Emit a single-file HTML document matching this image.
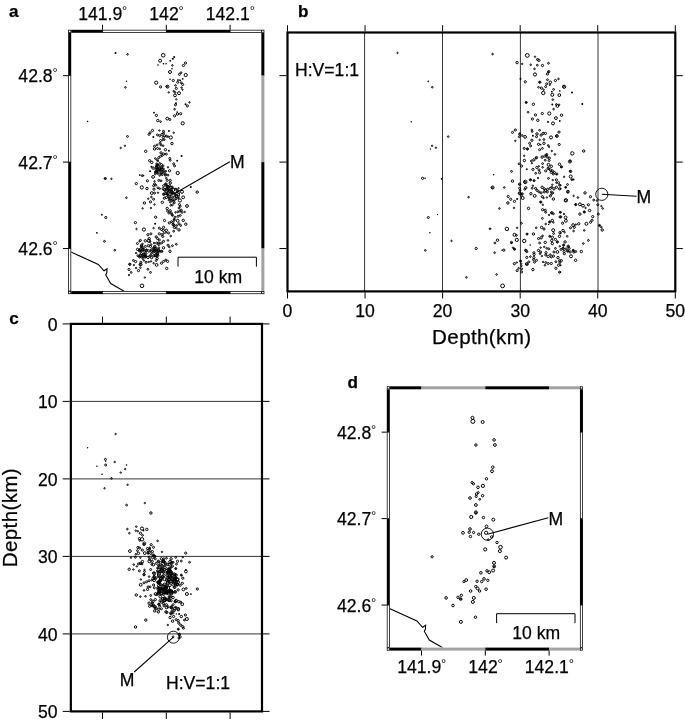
<!DOCTYPE html>
<html lang="en"><head><meta charset="utf-8"><title>Figure</title>
<style>html,body{margin:0;padding:0;background:#fff}svg{display:block}text{font-family:"Liberation Sans",Arial,Helvetica,sans-serif;fill:#000;stroke:#000;stroke-width:0.25px}</style>
</head><body>
<svg width="685" height="722" viewBox="0 0 685 722">
<rect width="685" height="722" fill="#fff"/>
<!-- panel a -->
<text x="9.0" y="16.7" font-size="17.1" font-weight="bold">a</text>
<clipPath id="clipA"><rect x="71.2" y="32.8" width="190.15000000000003" height="258.3"/></clipPath><path d="M70.9 251.9 L76.4 254.4 L98.3 264.5 L104.0 270.8 L107.0 268.9 L106.8 272.8 L105.7 274.8 L110.7 283.5 L124.1 291.2" fill="none" stroke="#000" stroke-width="1.1" stroke-linejoin="miter" clip-path="url(#clipA)"/><g clip-path="url(#clipA)"><g fill="none" stroke="#000" stroke-width="1.0"><circle cx="115.5" cy="53.0" r="1.00" fill="#000" stroke="none"/><circle cx="127.5" cy="54.3" r="0.8"/><circle cx="126.6" cy="81.2" r="0.70" fill="#000" stroke="none"/><circle cx="125.4" cy="87.4" r="0.8"/><circle cx="163.2" cy="55.3" r="1.8"/><circle cx="160.1" cy="60.7" r="1.5"/><circle cx="158.0" cy="65.0" r="0.80" fill="#000" stroke="none"/><circle cx="163.5" cy="63.7" r="0.80" fill="#000" stroke="none"/><circle cx="166.1" cy="63.7" r="0.80" fill="#000" stroke="none"/><circle cx="170.2" cy="60.8" r="0.90" fill="#000" stroke="none"/><circle cx="172.8" cy="58.8" r="1.00" fill="#000" stroke="none"/><circle cx="174.2" cy="56.9" r="1.00" fill="#000" stroke="none"/><circle cx="172.4" cy="65.4" r="0.8"/><circle cx="172.0" cy="68.7" r="0.80" fill="#000" stroke="none"/><circle cx="170.0" cy="72.0" r="1.5"/><circle cx="185.5" cy="63.0" r="1.1"/><circle cx="183.4" cy="65.5" r="1.1"/><circle cx="181.0" cy="72.7" r="0.9"/><circle cx="179.4" cy="74.4" r="1.0"/><circle cx="185.7" cy="75.0" r="1.6"/><circle cx="170.0" cy="79.2" r="0.80" fill="#000" stroke="none"/><circle cx="173.3" cy="80.5" r="1.1"/><circle cx="177.7" cy="80.1" r="0.80" fill="#000" stroke="none"/><circle cx="179.0" cy="80.1" r="0.80" fill="#000" stroke="none"/><circle cx="180.3" cy="80.4" r="0.80" fill="#000" stroke="none"/><circle cx="182.7" cy="78.8" r="0.90" fill="#000" stroke="none"/><circle cx="177.7" cy="82.3" r="1.0"/><circle cx="181.2" cy="82.7" r="0.9"/><circle cx="182.7" cy="84.5" r="1.0"/><circle cx="156.2" cy="82.7" r="1.6"/><circle cx="160.6" cy="86.9" r="1.1"/><circle cx="167.6" cy="86.7" r="1.4"/><circle cx="166.7" cy="86.5" r="0.9"/><circle cx="175.5" cy="85.4" r="0.8"/><circle cx="176.3" cy="88.4" r="1.1"/><circle cx="181.6" cy="87.6" r="0.7"/><circle cx="182.5" cy="89.7" r="0.7"/><circle cx="168.7" cy="92.4" r="0.7"/><circle cx="173.7" cy="91.1" r="0.7"/><circle cx="175.0" cy="92.4" r="0.9"/><circle cx="179.0" cy="93.2" r="1.5"/><circle cx="87.6" cy="121.5" r="0.80" fill="#000" stroke="none"/><circle cx="127.5" cy="136.4" r="0.9"/><circle cx="124.9" cy="145.8" r="0.7"/><circle cx="120.7" cy="147.9" r="0.7"/><circle cx="175.0" cy="95.4" r="1.4"/><circle cx="176.3" cy="99.4" r="0.7"/><circle cx="175.9" cy="103.3" r="1.00" fill="#000" stroke="none"/><circle cx="175.5" cy="104.8" r="1.0"/><circle cx="189.5" cy="102.4" r="0.7"/><circle cx="185.5" cy="104.2" r="1.00" fill="#000" stroke="none"/><circle cx="187.3" cy="105.9" r="1.1"/><circle cx="174.6" cy="109.2" r="0.8"/><circle cx="154.0" cy="112.7" r="0.90" fill="#000" stroke="none"/><circle cx="156.4" cy="115.4" r="1.1"/><circle cx="177.2" cy="112.1" r="0.80" fill="#000" stroke="none"/><circle cx="177.5" cy="114.0" r="1.2"/><circle cx="180.7" cy="113.7" r="1.1"/><circle cx="174.6" cy="115.8" r="1.1"/><circle cx="167.2" cy="118.6" r="1.4"/><circle cx="169.8" cy="119.5" r="1.0"/><circle cx="157.8" cy="120.6" r="1.2"/><circle cx="160.6" cy="121.7" r="0.8"/><circle cx="182.7" cy="123.3" r="1.6"/><circle cx="152.5" cy="130.5" r="1.1"/><circle cx="150.1" cy="132.7" r="1.0"/><circle cx="149.0" cy="134.4" r="1.0"/><circle cx="159.4" cy="130.5" r="0.7"/><circle cx="163.5" cy="131.3" r="1.0"/><circle cx="168.9" cy="130.9" r="1.00" fill="#000" stroke="none"/><circle cx="173.7" cy="132.7" r="0.7"/><circle cx="153.3" cy="137.0" r="1.00" fill="#000" stroke="none"/><circle cx="157.5" cy="134.9" r="1.0"/><circle cx="159.7" cy="135.7" r="1.0"/><circle cx="161.9" cy="134.4" r="1.1"/><circle cx="163.6" cy="133.1" r="0.9"/><circle cx="164.5" cy="135.7" r="1.0"/><circle cx="163.2" cy="137.5" r="1.1"/><circle cx="166.3" cy="136.2" r="1.0"/><circle cx="168.0" cy="136.6" r="0.8"/><circle cx="170.8" cy="137.5" r="1.6"/><circle cx="160.6" cy="140.5" r="1.0"/><circle cx="162.8" cy="140.1" r="0.7"/><circle cx="164.5" cy="139.7" r="0.7"/><circle cx="172.0" cy="143.6" r="1.2"/><circle cx="160.1" cy="143.2" r="1.0"/><circle cx="161.0" cy="144.9" r="1.0"/><circle cx="157.1" cy="144.9" r="0.9"/><circle cx="154.5" cy="146.2" r="1.0"/><circle cx="163.2" cy="145.8" r="0.8"/><circle cx="154.5" cy="148.9" r="1.2"/><circle cx="157.5" cy="148.4" r="1.0"/><circle cx="159.7" cy="148.9" r="0.8"/><circle cx="165.4" cy="149.7" r="1.2"/><circle cx="168.9" cy="150.8" r="1.00" fill="#000" stroke="none"/><circle cx="145.7" cy="151.3" r="1.2"/><circle cx="161.0" cy="152.8" r="1.1"/><circle cx="163.6" cy="154.1" r="1.1"/><circle cx="166.3" cy="154.1" r="1.0"/><circle cx="181.6" cy="155.9" r="1.00" fill="#000" stroke="none"/><circle cx="169.8" cy="158.5" r="1.0"/><circle cx="170.2" cy="160.3" r="0.9"/><circle cx="177.2" cy="160.7" r="1.00" fill="#000" stroke="none"/><circle cx="173.7" cy="163.8" r="1.0"/><circle cx="174.6" cy="165.9" r="1.0"/><circle cx="168.0" cy="167.3" r="0.7"/><circle cx="169.5" cy="170.8" r="1.1"/><circle cx="177.7" cy="173.0" r="1.6"/><circle cx="149.6" cy="160.7" r="1.1"/><circle cx="151.8" cy="162.4" r="1.2"/><circle cx="155.3" cy="158.5" r="0.8"/><circle cx="157.1" cy="159.8" r="1.0"/><circle cx="158.8" cy="157.6" r="1.0"/><circle cx="160.6" cy="156.3" r="1.0"/><circle cx="162.3" cy="155.4" r="0.9"/><circle cx="158.0" cy="161.1" r="0.7"/><circle cx="142.2" cy="175.6" r="0.9"/><circle cx="143.5" cy="175.6" r="0.90" fill="#000" stroke="none"/><circle cx="150.1" cy="171.2" r="1.00" fill="#000" stroke="none"/><circle cx="153.1" cy="168.1" r="1.2"/><circle cx="151.4" cy="166.8" r="1.00" fill="#000" stroke="none"/><circle cx="158.0" cy="165.9" r="1.4"/><circle cx="161.5" cy="164.6" r="1.0"/><circle cx="163.2" cy="165.9" r="0.9"/><circle cx="157.5" cy="169.0" r="1.0"/><circle cx="159.7" cy="168.1" r="1.0"/><circle cx="158.8" cy="171.2" r="1.0"/><circle cx="161.0" cy="172.5" r="1.0"/><circle cx="163.2" cy="170.8" r="1.0"/><circle cx="164.5" cy="172.1" r="0.8"/><circle cx="165.8" cy="171.2" r="0.8"/><circle cx="155.3" cy="173.8" r="1.0"/><circle cx="153.1" cy="176.9" r="1.4"/><circle cx="157.1" cy="172.1" r="0.9"/><circle cx="159.7" cy="175.6" r="0.7"/><circle cx="162.3" cy="174.7" r="0.9"/><circle cx="165.4" cy="175.1" r="1.0"/><circle cx="168.0" cy="175.1" r="0.9"/><circle cx="147.4" cy="180.8" r="1.1"/><circle cx="154.5" cy="181.3" r="0.7"/><circle cx="158.8" cy="180.4" r="1.0"/><circle cx="161.0" cy="180.8" r="0.9"/><circle cx="166.3" cy="178.2" r="0.8"/><circle cx="167.2" cy="180.4" r="1.0"/><circle cx="170.2" cy="180.4" r="1.1"/><circle cx="170.2" cy="183.0" r="1.2"/><circle cx="154.5" cy="183.9" r="1.0"/><circle cx="153.6" cy="185.7" r="1.0"/><circle cx="155.8" cy="185.2" r="0.9"/><circle cx="141.8" cy="187.4" r="1.6"/><circle cx="147.0" cy="188.5" r="1.2"/><circle cx="154.0" cy="189.2" r="1.1"/><circle cx="158.0" cy="187.8" r="0.9"/><circle cx="159.7" cy="188.7" r="0.8"/><circle cx="163.6" cy="185.7" r="1.0"/><circle cx="165.4" cy="184.3" r="0.9"/><circle cx="163.2" cy="188.7" r="1.2"/><circle cx="169.8" cy="185.7" r="1.0"/><circle cx="166.3" cy="189.2" r="1.0"/><circle cx="168.0" cy="190.5" r="1.0"/><circle cx="170.7" cy="189.6" r="1.0"/><circle cx="173.3" cy="190.0" r="1.4"/><circle cx="175.9" cy="189.2" r="1.0"/><circle cx="178.5" cy="188.3" r="0.7"/><circle cx="177.7" cy="190.9" r="1.0"/><circle cx="182.0" cy="191.8" r="1.5"/><circle cx="190.8" cy="187.0" r="1.00" fill="#000" stroke="none"/><circle cx="197.2" cy="192.1" r="1.2"/><circle cx="151.8" cy="193.1" r="1.4"/><circle cx="154.5" cy="193.1" r="1.0"/><circle cx="158.0" cy="192.7" r="0.7"/><circle cx="163.6" cy="194.4" r="1.1"/><circle cx="165.8" cy="193.5" r="1.0"/><circle cx="168.0" cy="194.9" r="1.0"/><circle cx="169.8" cy="196.2" r="1.0"/><circle cx="166.3" cy="197.5" r="1.1"/><circle cx="168.9" cy="197.9" r="1.0"/><circle cx="171.1" cy="198.4" r="1.0"/><circle cx="172.8" cy="199.7" r="1.0"/><circle cx="171.5" cy="200.5" r="0.9"/><circle cx="173.7" cy="201.4" r="0.9"/><circle cx="176.3" cy="196.2" r="1.4"/><circle cx="178.5" cy="194.4" r="1.0"/><circle cx="183.2" cy="197.3" r="1.4"/><circle cx="179.9" cy="200.5" r="1.6"/><circle cx="151.4" cy="197.0" r="0.8"/><circle cx="153.6" cy="199.2" r="1.0"/><circle cx="148.3" cy="198.8" r="0.7"/><circle cx="150.5" cy="201.9" r="1.1"/><circle cx="144.4" cy="203.0" r="1.2"/><circle cx="162.3" cy="202.3" r="1.2"/><circle cx="154.5" cy="204.5" r="0.7"/><circle cx="142.6" cy="208.4" r="0.7"/><circle cx="150.9" cy="208.0" r="0.7"/><circle cx="174.2" cy="202.7" r="1.0"/><circle cx="172.4" cy="204.9" r="0.9"/><circle cx="170.7" cy="205.4" r="0.8"/><circle cx="179.4" cy="204.5" r="1.0"/><circle cx="180.3" cy="206.2" r="0.9"/><circle cx="179.0" cy="208.0" r="0.9"/><circle cx="187.0" cy="206.0" r="1.4"/><circle cx="167.2" cy="208.4" r="1.2"/><circle cx="167.6" cy="211.1" r="1.0"/><circle cx="170.2" cy="210.6" r="1.0"/><circle cx="171.1" cy="212.8" r="1.0"/><circle cx="168.9" cy="213.2" r="0.9"/><circle cx="175.5" cy="212.4" r="0.7"/><circle cx="177.7" cy="211.9" r="0.9"/><circle cx="179.9" cy="211.1" r="1.0"/><circle cx="181.2" cy="210.2" r="1.0"/><circle cx="182.0" cy="212.4" r="0.9"/><circle cx="184.7" cy="211.9" r="0.7"/><circle cx="172.0" cy="214.6" r="1.0"/><circle cx="156.6" cy="163.8" r="0.8"/><circle cx="159.7" cy="163.3" r="0.8"/><circle cx="161.9" cy="168.1" r="0.8"/><circle cx="163.6" cy="169.0" r="0.8"/><circle cx="156.2" cy="166.8" r="0.8"/><circle cx="160.6" cy="169.9" r="0.8"/><circle cx="162.8" cy="173.0" r="0.7"/><circle cx="158.0" cy="173.8" r="0.7"/><circle cx="167.2" cy="185.7" r="0.9"/><circle cx="168.5" cy="187.8" r="0.9"/><circle cx="165.4" cy="190.9" r="0.9"/><circle cx="167.2" cy="192.7" r="0.9"/><circle cx="170.2" cy="192.7" r="0.9"/><circle cx="172.4" cy="193.5" r="0.9"/><circle cx="174.6" cy="193.5" r="0.9"/><circle cx="171.1" cy="195.3" r="0.8"/><circle cx="173.3" cy="197.0" r="0.8"/><circle cx="175.5" cy="198.8" r="0.8"/><circle cx="168.9" cy="200.1" r="0.8"/><circle cx="170.2" cy="202.3" r="0.8"/><circle cx="176.8" cy="192.2" r="0.8"/><circle cx="178.5" cy="197.9" r="0.8"/><circle cx="155.6" cy="217.2" r="1.1"/><circle cx="164.5" cy="220.5" r="1.1"/><circle cx="172.4" cy="215.4" r="0.9"/><circle cx="175.0" cy="217.2" r="1.0"/><circle cx="178.1" cy="216.3" r="1.0"/><circle cx="180.3" cy="215.4" r="0.9"/><circle cx="169.3" cy="222.9" r="1.1"/><circle cx="171.5" cy="221.6" r="0.9"/><circle cx="174.2" cy="220.3" r="0.9"/><circle cx="177.7" cy="220.7" r="1.4"/><circle cx="179.0" cy="223.8" r="1.0"/><circle cx="180.7" cy="225.5" r="0.9"/><circle cx="183.2" cy="220.4" r="1.2"/><circle cx="185.8" cy="224.2" r="1.2"/><circle cx="173.7" cy="224.6" r="0.8"/><circle cx="174.2" cy="227.3" r="1.1"/><circle cx="176.3" cy="228.1" r="0.9"/><circle cx="179.0" cy="229.9" r="1.2"/><circle cx="173.7" cy="231.2" r="0.9"/><circle cx="176.8" cy="225.5" r="0.8"/><circle cx="155.1" cy="223.8" r="1.00" fill="#000" stroke="none"/><circle cx="153.6" cy="228.1" r="0.7"/><circle cx="143.9" cy="229.5" r="1.6"/><circle cx="159.3" cy="228.1" r="1.0"/><circle cx="161.5" cy="229.5" r="1.0"/><circle cx="163.6" cy="227.3" r="1.1"/><circle cx="163.2" cy="230.3" r="1.2"/><circle cx="166.3" cy="230.3" r="1.2"/><circle cx="168.5" cy="233.0" r="1.0"/><circle cx="165.8" cy="232.5" r="0.8"/><circle cx="170.7" cy="236.0" r="0.8"/><circle cx="159.3" cy="233.8" r="1.1"/><circle cx="161.9" cy="234.7" r="1.0"/><circle cx="163.6" cy="233.4" r="0.7"/><circle cx="162.8" cy="236.5" r="1.0"/><circle cx="147.9" cy="234.7" r="1.1"/><circle cx="150.9" cy="233.8" r="1.0"/><circle cx="156.2" cy="236.9" r="1.1"/><circle cx="157.5" cy="238.6" r="1.0"/><circle cx="159.3" cy="240.0" r="1.0"/><circle cx="168.0" cy="240.4" r="0.8"/><circle cx="148.8" cy="240.8" r="1.6"/><circle cx="145.3" cy="240.8" r="1.2"/><circle cx="140.4" cy="240.4" r="1.0"/><circle cx="154.0" cy="243.0" r="0.7"/><circle cx="156.6" cy="243.0" r="1.0"/><circle cx="158.8" cy="244.3" r="1.2"/><circle cx="161.5" cy="243.0" r="1.0"/><circle cx="163.6" cy="241.3" r="1.0"/><circle cx="142.6" cy="243.9" r="0.7"/><circle cx="168.0" cy="245.2" r="1.0"/><circle cx="169.3" cy="247.0" r="0.8"/><circle cx="172.4" cy="245.7" r="0.9"/><circle cx="176.3" cy="244.3" r="0.9"/><circle cx="163.5" cy="247.8" r="1.2"/><circle cx="170.0" cy="251.3" r="1.2"/><circle cx="145.3" cy="246.5" r="1.0"/><circle cx="150.5" cy="246.5" r="1.0"/><circle cx="155.8" cy="248.3" r="1.2"/><circle cx="158.8" cy="247.8" r="0.9"/><circle cx="142.2" cy="250.0" r="1.2"/><circle cx="144.8" cy="251.3" r="1.0"/><circle cx="148.8" cy="250.9" r="1.2"/><circle cx="151.4" cy="249.6" r="0.9"/><circle cx="153.1" cy="252.2" r="1.0"/><circle cx="155.8" cy="252.2" r="1.2"/><circle cx="158.4" cy="250.0" r="1.2"/><circle cx="160.1" cy="251.3" r="0.9"/><circle cx="162.3" cy="251.3" r="0.7"/><circle cx="141.3" cy="253.5" r="1.0"/><circle cx="143.9" cy="254.4" r="1.0"/><circle cx="146.1" cy="253.5" r="0.9"/><circle cx="140.4" cy="256.2" r="1.2"/><circle cx="147.9" cy="257.5" r="1.2"/><circle cx="149.6" cy="256.2" r="0.9"/><circle cx="154.9" cy="255.7" r="1.1"/><circle cx="158.0" cy="255.3" r="0.9"/><circle cx="157.1" cy="258.4" r="1.2"/><circle cx="142.6" cy="257.0" r="0.9"/><circle cx="156.2" cy="260.5" r="0.9"/><circle cx="140.9" cy="262.3" r="1.0"/><circle cx="143.9" cy="260.5" r="0.7"/><circle cx="146.1" cy="262.3" r="1.0"/><circle cx="148.8" cy="261.9" r="0.7"/><circle cx="150.9" cy="261.4" r="0.7"/><circle cx="153.6" cy="263.2" r="0.7"/><circle cx="156.6" cy="264.9" r="1.4"/><circle cx="161.5" cy="263.2" r="1.1"/><circle cx="163.6" cy="261.4" r="1.0"/><circle cx="165.8" cy="260.1" r="1.0"/><circle cx="167.6" cy="261.4" r="1.1"/><circle cx="140.9" cy="264.5" r="1.2"/><circle cx="140.4" cy="267.6" r="0.8"/><circle cx="166.7" cy="268.4" r="1.2"/><circle cx="147.9" cy="269.3" r="0.9"/><circle cx="150.5" cy="272.4" r="0.9"/><circle cx="143.5" cy="248.7" r="0.8"/><circle cx="140.9" cy="251.3" r="0.9"/><circle cx="146.6" cy="249.6" r="0.8"/><circle cx="157.1" cy="253.5" r="0.8"/><circle cx="154.0" cy="250.0" r="0.8"/><circle cx="151.4" cy="253.5" r="0.8"/><circle cx="145.3" cy="256.2" r="0.8"/><circle cx="105.4" cy="178.5" r="1.0"/><circle cx="104.9" cy="178.5" r="0.7"/><circle cx="111.4" cy="178.8" r="0.7"/><circle cx="136.3" cy="183.6" r="1.1"/><circle cx="126.4" cy="197.7" r="0.8"/><circle cx="101.9" cy="214.7" r="0.90" fill="#000" stroke="none"/><circle cx="139.8" cy="175.1" r="0.90" fill="#000" stroke="none"/><circle cx="105.8" cy="217.5" r="1.1"/><circle cx="135.4" cy="222.6" r="1.1"/><circle cx="136.5" cy="229.0" r="0.7"/><circle cx="96.9" cy="232.8" r="0.90" fill="#000" stroke="none"/><circle cx="104.5" cy="241.3" r="0.9"/><circle cx="114.8" cy="250.2" r="0.8"/><circle cx="137.4" cy="243.5" r="1.0"/><circle cx="139.6" cy="241.3" r="0.7"/><circle cx="137.5" cy="249.4" r="1.1"/><circle cx="139.6" cy="250.9" r="1.0"/><circle cx="136.1" cy="253.1" r="0.7"/><circle cx="137.8" cy="255.7" r="0.9"/><circle cx="139.6" cy="257.0" r="1.0"/><circle cx="133.4" cy="260.4" r="0.9"/><circle cx="135.6" cy="261.6" r="1.1"/><circle cx="129.9" cy="264.3" r="1.1"/><circle cx="129.5" cy="264.3" r="0.8"/><circle cx="133.9" cy="265.1" r="0.7"/><circle cx="140.0" cy="264.5" r="1.0"/><circle cx="129.0" cy="269.5" r="1.1"/><circle cx="131.2" cy="272.4" r="0.9"/><circle cx="136.1" cy="268.0" r="0.7"/><circle cx="138.5" cy="270.6" r="1.1"/><circle cx="129.0" cy="275.0" r="0.7"/><circle cx="144.9" cy="277.5" r="0.7"/><circle cx="142.0" cy="285.8" r="1.8"/><circle cx="156.5" cy="167.7" r="1.3"/><circle cx="156.1" cy="169.6" r="1.1"/><circle cx="157.8" cy="169.6" r="1.2"/><circle cx="165.4" cy="174.2" r="1.0"/><circle cx="161.3" cy="167.4" r="1.2"/><circle cx="161.9" cy="169.7" r="1.3"/><circle cx="156.6" cy="165.2" r="0.9"/><circle cx="159.8" cy="169.7" r="0.9"/><circle cx="160.7" cy="173.7" r="0.9"/><circle cx="156.4" cy="172.1" r="1.2"/><circle cx="157.6" cy="165.0" r="1.1"/><circle cx="155.4" cy="171.8" r="1.0"/><circle cx="167.0" cy="186.6" r="1.2"/><circle cx="172.6" cy="192.9" r="1.0"/><circle cx="171.2" cy="187.6" r="1.2"/><circle cx="164.4" cy="189.7" r="1.2"/><circle cx="167.1" cy="194.1" r="0.9"/><circle cx="176.4" cy="196.3" r="1.2"/><circle cx="169.0" cy="190.0" r="1.0"/><circle cx="172.4" cy="187.1" r="0.9"/><circle cx="171.4" cy="191.3" r="1.1"/><circle cx="172.0" cy="192.4" r="1.3"/><circle cx="167.6" cy="194.3" r="0.9"/><circle cx="166.8" cy="188.6" r="0.9"/><circle cx="175.7" cy="195.4" r="1.0"/><circle cx="164.3" cy="198.2" r="1.1"/><circle cx="164.1" cy="193.8" r="1.0"/><circle cx="169.6" cy="190.8" r="1.3"/><circle cx="166.0" cy="183.8" r="1.0"/><circle cx="168.1" cy="186.8" r="1.2"/><circle cx="143.0" cy="249.6" r="1.2"/><circle cx="142.9" cy="258.5" r="1.0"/><circle cx="141.3" cy="246.7" r="1.0"/><circle cx="140.3" cy="255.3" r="1.2"/><circle cx="143.8" cy="254.2" r="1.3"/><circle cx="143.3" cy="256.0" r="1.2"/><circle cx="145.8" cy="256.3" r="1.1"/><circle cx="161.4" cy="251.3" r="1.1"/><circle cx="158.5" cy="250.7" r="0.9"/><circle cx="154.8" cy="246.4" r="1.2"/><circle cx="157.0" cy="256.2" r="1.0"/><circle cx="172.8" cy="222.5" r="1.0"/><circle cx="173.0" cy="224.5" r="1.1"/><circle cx="174.1" cy="219.3" r="0.9"/><circle cx="174.4" cy="225.3" r="0.9"/><circle cx="148.3" cy="245.7" r="1.1"/><circle cx="151.6" cy="257.7" r="1.1"/><circle cx="140.2" cy="249.2" r="1.0"/><circle cx="155.3" cy="250.1" r="1.0"/><circle cx="157.6" cy="253.7" r="1.1"/><circle cx="150.6" cy="255.5" r="0.8"/><circle cx="149.2" cy="238.7" r="1.2"/><circle cx="158.4" cy="251.9" r="0.9"/><circle cx="155.8" cy="255.4" r="1.2"/><circle cx="153.7" cy="255.7" r="1.1"/><circle cx="153.5" cy="248.3" r="1.0"/><circle cx="145.5" cy="257.1" r="1.0"/><circle cx="154.6" cy="251.2" r="1.2"/><circle cx="151.0" cy="244.6" r="0.9"/><circle cx="158.5" cy="243.1" r="1.1"/><circle cx="141.6" cy="245.2" r="1.1"/><circle cx="146.2" cy="250.6" r="1.2"/><circle cx="154.3" cy="247.7" r="1.2"/><circle cx="145.3" cy="255.5" r="1.0"/><circle cx="156.8" cy="249.8" r="1.0"/><circle cx="151.5" cy="251.1" r="1.1"/><circle cx="139.1" cy="250.3" r="1.0"/><circle cx="149.9" cy="241.6" r="0.9"/><circle cx="142.0" cy="246.9" r="1.1"/></g></g><rect x="71.20" y="29.80" width="31.30" height="3.00" fill="#000"/><rect x="102.50" y="30.17" width="63.80" height="2.25" fill="#fff" stroke="#000" stroke-width="0.75"/><rect x="166.30" y="29.80" width="63.80" height="3.00" fill="#000"/><rect x="230.10" y="30.17" width="31.25" height="2.25" fill="#fff" stroke="#000" stroke-width="0.75"/><rect x="71.20" y="291.10" width="31.30" height="3.00" fill="#000"/><rect x="102.50" y="291.48" width="63.80" height="2.25" fill="#fff" stroke="#000" stroke-width="0.75"/><rect x="166.30" y="291.10" width="63.80" height="3.00" fill="#000"/><rect x="230.10" y="291.48" width="31.25" height="2.25" fill="#fff" stroke="#000" stroke-width="0.75"/><rect x="68.20" y="32.80" width="3.00" height="42.85" fill="#000"/><rect x="68.58" y="75.65" width="2.25" height="86.45" fill="#fff" stroke="#000" stroke-width="0.75"/><rect x="68.20" y="162.10" width="3.00" height="86.45" fill="#000"/><rect x="68.58" y="248.55" width="2.25" height="42.55" fill="#fff" stroke="#000" stroke-width="0.75"/><rect x="261.35" y="32.80" width="3.00" height="42.85" fill="#000"/><rect x="261.35" y="75.65" width="3.00" height="86.45" fill="#a2a2a2"/><rect x="261.35" y="162.10" width="3.00" height="86.45" fill="#000"/><rect x="261.35" y="248.55" width="3.00" height="42.55" fill="#a2a2a2"/><rect x="68.58" y="30.17" width="2.25" height="2.25" fill="#fff" stroke="#000" stroke-width="0.75"/><rect x="68.58" y="291.48" width="2.25" height="2.25" fill="#fff" stroke="#000" stroke-width="0.75"/><rect x="261.73" y="30.17" width="2.25" height="2.25" fill="#fff" stroke="#000" stroke-width="0.75"/><rect x="261.73" y="291.48" width="2.25" height="2.25" fill="#fff" stroke="#000" stroke-width="0.75"/><line x1="102.5" y1="29.799999999999997" x2="102.5" y2="24.799999999999997" stroke="#000" stroke-width="1"/><text x="100.20" y="19.80" font-size="17.6" text-anchor="middle">141.9</text><text x="122.12" y="14.80" font-size="13" style="stroke-width:0">°</text><line x1="166.3" y1="29.799999999999997" x2="166.3" y2="24.799999999999997" stroke="#000" stroke-width="1"/><text x="164.00" y="19.80" font-size="17.6" text-anchor="middle">142</text><text x="178.58" y="14.80" font-size="13" style="stroke-width:0">°</text><line x1="230.1" y1="29.799999999999997" x2="230.1" y2="24.799999999999997" stroke="#000" stroke-width="1"/><text x="227.80" y="19.80" font-size="17.6" text-anchor="middle">142.1</text><text x="249.72" y="14.80" font-size="13" style="stroke-width:0">°</text><line x1="68.2" y1="75.65" x2="63.0" y2="75.65" stroke="#000" stroke-width="1"/><text x="52.60" y="82.10" font-size="17.6" text-anchor="end">42.8</text><text x="52.50" y="77.10" font-size="13" style="stroke-width:0">°</text><line x1="68.2" y1="162.1" x2="63.0" y2="162.1" stroke="#000" stroke-width="1"/><text x="52.60" y="168.55" font-size="17.6" text-anchor="end">42.7</text><text x="52.50" y="163.55" font-size="13" style="stroke-width:0">°</text><line x1="68.2" y1="248.55" x2="63.0" y2="248.55" stroke="#000" stroke-width="1"/><text x="52.60" y="255.00" font-size="17.6" text-anchor="end">42.6</text><text x="52.50" y="250.00" font-size="13" style="stroke-width:0">°</text><path d="M178 266.6 L178 257.2 L256.4 257.2 L256.4 266.6" fill="none" stroke="#000" stroke-width="1"/><text x="218.2" y="283.2" font-size="17.6" text-anchor="middle">10 km</text><circle cx="173.4" cy="194.3" r="6.1" fill="none" stroke="#000" stroke-width="0.9"/><line x1="173.4" y1="194.3" x2="229.8" y2="161.7" stroke="#000" stroke-width="1.05"/><text x="230.0" y="168.3" font-size="17.6">M</text>
<!-- panel b -->
<text x="297.9" y="16.5" font-size="17.1" font-weight="bold">b</text>
<line x1="364.60" y1="32.5" x2="364.60" y2="291.4" stroke="#000" stroke-width="0.8"/><line x1="442.50" y1="32.5" x2="442.50" y2="291.4" stroke="#000" stroke-width="0.8"/><line x1="520.40" y1="32.5" x2="520.40" y2="291.4" stroke="#000" stroke-width="0.8"/><line x1="598.00" y1="32.5" x2="598.00" y2="291.4" stroke="#000" stroke-width="0.8"/>
<clipPath id="clipB"><rect x="287.5" y="32.5" width="387.79999999999995" height="258.9"/></clipPath>
<g clip-path="url(#clipB)"><g fill="none" stroke="#000" stroke-width="1.0"><circle cx="397.5" cy="52.9" r="0.7"/><circle cx="428.2" cy="81.4" r="0.80" fill="#000" stroke="none"/><circle cx="432.3" cy="87.2" r="0.8"/><circle cx="411.2" cy="121.7" r="0.70" fill="#000" stroke="none"/><circle cx="448.2" cy="136.6" r="0.8"/><circle cx="432.1" cy="145.8" r="0.7"/><circle cx="435.9" cy="147.7" r="0.7"/><circle cx="430.4" cy="149.0" r="0.70" fill="#000" stroke="none"/><circle cx="422.6" cy="178.3" r="1.1"/><circle cx="425.1" cy="178.3" r="0.80" fill="#000" stroke="none"/><circle cx="441.6" cy="178.8" r="0.90" fill="#000" stroke="none"/><circle cx="468.6" cy="197.2" r="0.8"/><circle cx="437.5" cy="214.6" r="0.70" fill="#000" stroke="none"/><circle cx="428.3" cy="217.5" r="1.0"/><circle cx="429.9" cy="232.8" r="0.80" fill="#000" stroke="none"/><circle cx="489.8" cy="228.8" r="0.7"/><circle cx="451.5" cy="240.9" r="0.7"/><circle cx="476.2" cy="248.5" r="1.1"/><circle cx="425.3" cy="250.4" r="0.8"/><circle cx="466.4" cy="277.4" r="0.8"/><circle cx="492.6" cy="54.1" r="0.8"/><circle cx="517.1" cy="62.6" r="1.2"/><circle cx="522.2" cy="63.9" r="0.7"/><circle cx="527.3" cy="55.4" r="1.9"/><circle cx="535.0" cy="56.7" r="0.7"/><circle cx="537.5" cy="59.5" r="1.0"/><circle cx="538.8" cy="60.3" r="1.2"/><circle cx="530.7" cy="64.8" r="0.8"/><circle cx="537.3" cy="65.2" r="0.9"/><circle cx="542.5" cy="65.5" r="1.1"/><circle cx="548.5" cy="63.3" r="0.9"/><circle cx="534.5" cy="68.9" r="0.8"/><circle cx="535.0" cy="74.5" r="1.6"/><circle cx="548.8" cy="71.6" r="1.1"/><circle cx="548.2" cy="72.0" r="0.7"/><circle cx="547.4" cy="74.0" r="1.1"/><circle cx="520.5" cy="78.9" r="0.7"/><circle cx="525.3" cy="81.8" r="1.1"/><circle cx="539.9" cy="82.2" r="1.1"/><circle cx="539.5" cy="82.2" r="0.7"/><circle cx="547.5" cy="79.7" r="0.9"/><circle cx="550.3" cy="82.3" r="1.3"/><circle cx="549.8" cy="84.9" r="0.7"/><circle cx="555.4" cy="80.5" r="1.1"/><circle cx="558.5" cy="78.9" r="0.8"/><circle cx="546.7" cy="83.8" r="1.0"/><circle cx="545.7" cy="86.6" r="1.0"/><circle cx="538.5" cy="87.3" r="0.8"/><circle cx="541.4" cy="88.1" r="1.1"/><circle cx="543.6" cy="89.7" r="0.7"/><circle cx="543.3" cy="93.0" r="1.7"/><circle cx="553.6" cy="89.4" r="0.9"/><circle cx="551.8" cy="91.7" r="0.90" fill="#000" stroke="none"/><circle cx="552.3" cy="94.8" r="1.5"/><circle cx="559.3" cy="95.1" r="1.4"/><circle cx="559.8" cy="90.9" r="0.80" fill="#000" stroke="none"/><circle cx="552.8" cy="99.6" r="0.8"/><circle cx="526.3" cy="102.4" r="1.0"/><circle cx="526.0" cy="102.4" r="1.00" fill="#000" stroke="none"/><circle cx="533.4" cy="104.3" r="1.2"/><circle cx="552.3" cy="104.5" r="1.00" fill="#000" stroke="none"/><circle cx="556.4" cy="104.5" r="0.9"/><circle cx="559.0" cy="104.8" r="0.8"/><circle cx="564.1" cy="86.8" r="1.6"/><circle cx="563.7" cy="86.4" r="0.9"/><circle cx="572.0" cy="92.4" r="1.00" fill="#000" stroke="none"/><circle cx="582.3" cy="104.0" r="1.00" fill="#000" stroke="none"/><circle cx="557.4" cy="106.0" r="1.4"/><circle cx="553.6" cy="109.1" r="0.8"/><circle cx="528.1" cy="112.2" r="0.8"/><circle cx="535.5" cy="114.9" r="1.1"/><circle cx="542.3" cy="113.5" r="1.1"/><circle cx="549.3" cy="113.5" r="1.6"/><circle cx="555.9" cy="118.1" r="1.4"/><circle cx="559.8" cy="121.0" r="0.90" fill="#000" stroke="none"/><circle cx="532.4" cy="119.0" r="1.1"/><circle cx="537.8" cy="120.3" r="1.2"/><circle cx="548.0" cy="121.9" r="0.7"/><circle cx="553.0" cy="123.4" r="1.5"/><circle cx="515.3" cy="130.0" r="1.1"/><circle cx="512.5" cy="132.4" r="1.0"/><circle cx="531.9" cy="130.0" r="0.8"/><circle cx="532.2" cy="131.6" r="0.8"/><circle cx="539.6" cy="130.3" r="0.9"/><circle cx="519.6" cy="134.1" r="1.0"/><circle cx="520.0" cy="133.6" r="1.00" fill="#000" stroke="none"/><circle cx="522.2" cy="135.5" r="0.9"/><circle cx="525.1" cy="136.9" r="1.4"/><circle cx="519.3" cy="136.7" r="0.9"/><circle cx="537.0" cy="133.9" r="1.2"/><circle cx="536.5" cy="136.7" r="1.0"/><circle cx="532.9" cy="135.7" r="1.00" fill="#000" stroke="none"/><circle cx="541.1" cy="135.1" r="1.1"/><circle cx="543.1" cy="133.4" r="1.1"/><circle cx="545.4" cy="133.4" r="1.1"/><circle cx="551.0" cy="137.4" r="1.5"/><circle cx="556.9" cy="136.0" r="1.4"/><circle cx="556.5" cy="136.0" r="0.8"/><circle cx="559.0" cy="132.1" r="1.1"/><circle cx="515.3" cy="140.8" r="0.7"/><circle cx="531.9" cy="140.3" r="1.1"/><circle cx="539.6" cy="139.9" r="0.7"/><circle cx="543.9" cy="139.5" r="0.9"/><circle cx="529.6" cy="143.3" r="1.0"/><circle cx="530.7" cy="145.9" r="1.0"/><circle cx="538.5" cy="144.3" r="1.1"/><circle cx="540.6" cy="144.6" r="0.90" fill="#000" stroke="none"/><circle cx="543.9" cy="143.3" r="1.2"/><circle cx="548.2" cy="145.4" r="0.8"/><circle cx="549.1" cy="146.9" r="0.7"/><circle cx="559.2" cy="144.5" r="1.1"/><circle cx="524.2" cy="148.4" r="1.0"/><circle cx="527.3" cy="148.9" r="1.1"/><circle cx="527.6" cy="149.1" r="0.7"/><circle cx="539.6" cy="149.7" r="1.0"/><circle cx="542.4" cy="148.4" r="0.9"/><circle cx="551.8" cy="151.0" r="0.7"/><circle cx="554.9" cy="154.4" r="0.8"/><circle cx="524.2" cy="155.8" r="0.7"/><circle cx="524.4" cy="160.5" r="1.2"/><circle cx="536.5" cy="157.6" r="1.2"/><circle cx="536.2" cy="157.9" r="0.7"/><circle cx="533.9" cy="159.9" r="1.2"/><circle cx="531.4" cy="161.0" r="0.9"/><circle cx="531.9" cy="163.2" r="0.7"/><circle cx="542.1" cy="157.1" r="1.2"/><circle cx="544.7" cy="156.1" r="1.0"/><circle cx="546.7" cy="154.6" r="1.1"/><circle cx="546.4" cy="154.9" r="1.00" fill="#000" stroke="none"/><circle cx="547.2" cy="157.1" r="1.0"/><circle cx="549.3" cy="158.1" r="1.1"/><circle cx="549.1" cy="160.5" r="1.0"/><circle cx="545.2" cy="160.2" r="0.9"/><circle cx="542.6" cy="163.6" r="0.9"/><circle cx="519.1" cy="163.8" r="0.9"/><circle cx="521.5" cy="166.0" r="1.1"/><circle cx="548.5" cy="164.8" r="1.4"/><circle cx="551.3" cy="166.3" r="1.2"/><circle cx="559.5" cy="164.3" r="1.2"/><circle cx="526.8" cy="169.2" r="0.90" fill="#000" stroke="none"/><circle cx="532.9" cy="169.4" r="1.1"/><circle cx="536.8" cy="167.5" r="1.1"/><circle cx="538.8" cy="166.3" r="0.7"/><circle cx="539.0" cy="169.9" r="1.0"/><circle cx="542.6" cy="167.3" r="0.8"/><circle cx="511.5" cy="171.4" r="0.9"/><circle cx="539.6" cy="172.7" r="1.1"/><circle cx="535.7" cy="173.3" r="0.9"/><circle cx="545.7" cy="170.9" r="1.1"/><circle cx="548.2" cy="168.4" r="1.2"/><circle cx="548.7" cy="168.6" r="0.7"/><circle cx="550.3" cy="169.9" r="1.1"/><circle cx="552.3" cy="170.9" r="1.1"/><circle cx="551.3" cy="172.4" r="1.1"/><circle cx="554.4" cy="172.4" r="1.0"/><circle cx="556.9" cy="174.0" r="1.0"/><circle cx="556.4" cy="174.3" r="1.00" fill="#000" stroke="none"/><circle cx="553.4" cy="174.0" r="1.0"/><circle cx="493.6" cy="174.8" r="0.80" fill="#000" stroke="none"/><circle cx="561.5" cy="115.2" r="1.2"/><circle cx="583.7" cy="151.0" r="1.2"/><circle cx="572.3" cy="153.4" r="1.7"/><circle cx="569.9" cy="161.5" r="1.5"/><circle cx="570.2" cy="161.0" r="0.9"/><circle cx="561.5" cy="166.8" r="1.1"/><circle cx="561.2" cy="167.1" r="1.00" fill="#000" stroke="none"/><circle cx="570.7" cy="171.4" r="1.1"/><circle cx="570.0" cy="171.2" r="0.8"/><circle cx="512.5" cy="181.1" r="1.2"/><circle cx="492.6" cy="187.5" r="1.5"/><circle cx="492.2" cy="187.8" r="0.9"/><circle cx="504.3" cy="187.5" r="0.8"/><circle cx="548.5" cy="178.4" r="0.9"/><circle cx="538.0" cy="178.1" r="0.7"/><circle cx="530.4" cy="179.8" r="1.1"/><circle cx="530.7" cy="179.8" r="1.00" fill="#000" stroke="none"/><circle cx="534.1" cy="180.6" r="1.0"/><circle cx="533.9" cy="180.6" r="0.90" fill="#000" stroke="none"/><circle cx="525.3" cy="181.9" r="1.7"/><circle cx="524.9" cy="182.4" r="1.0"/><circle cx="519.6" cy="184.2" r="1.2"/><circle cx="519.9" cy="184.5" r="0.7"/><circle cx="552.8" cy="180.1" r="0.7"/><circle cx="556.4" cy="179.9" r="1.1"/><circle cx="558.5" cy="182.7" r="1.1"/><circle cx="556.4" cy="182.7" r="0.7"/><circle cx="552.3" cy="184.7" r="0.7"/><circle cx="559.5" cy="185.2" r="0.9"/><circle cx="532.9" cy="185.7" r="0.7"/><circle cx="525.8" cy="187.8" r="1.2"/><circle cx="524.7" cy="189.3" r="0.9"/><circle cx="519.6" cy="188.3" r="1.0"/><circle cx="520.1" cy="190.3" r="0.8"/><circle cx="532.2" cy="188.3" r="0.9"/><circle cx="535.5" cy="188.3" r="1.0"/><circle cx="537.0" cy="190.3" r="1.1"/><circle cx="539.0" cy="191.9" r="1.0"/><circle cx="541.1" cy="192.9" r="1.0"/><circle cx="542.1" cy="187.3" r="1.2"/><circle cx="544.2" cy="188.8" r="1.1"/><circle cx="545.7" cy="190.3" r="1.2"/><circle cx="547.7" cy="189.3" r="1.1"/><circle cx="550.3" cy="188.3" r="1.1"/><circle cx="551.8" cy="187.3" r="0.9"/><circle cx="553.9" cy="188.8" r="1.2"/><circle cx="556.4" cy="187.3" r="1.1"/><circle cx="559.5" cy="188.8" r="1.1"/><circle cx="544.2" cy="191.9" r="1.1"/><circle cx="547.2" cy="191.9" r="1.1"/><circle cx="551.3" cy="191.9" r="0.9"/><circle cx="552.8" cy="192.9" r="1.0"/><circle cx="519.6" cy="193.2" r="1.4"/><circle cx="519.9" cy="193.4" r="0.8"/><circle cx="522.2" cy="193.9" r="1.1"/><circle cx="521.9" cy="193.9" r="1.00" fill="#000" stroke="none"/><circle cx="521.2" cy="195.4" r="0.9"/><circle cx="530.9" cy="193.7" r="1.2"/><circle cx="534.7" cy="195.9" r="1.4"/><circle cx="522.7" cy="198.0" r="1.5"/><circle cx="508.2" cy="196.5" r="1.1"/><circle cx="510.7" cy="199.3" r="1.1"/><circle cx="514.5" cy="201.4" r="1.1"/><circle cx="517.1" cy="199.0" r="1.00" fill="#000" stroke="none"/><circle cx="507.9" cy="202.9" r="1.2"/><circle cx="542.3" cy="196.7" r="1.1"/><circle cx="543.6" cy="198.0" r="0.7"/><circle cx="546.9" cy="197.5" r="0.7"/><circle cx="550.3" cy="195.9" r="1.1"/><circle cx="553.4" cy="199.0" r="1.2"/><circle cx="551.3" cy="194.4" r="0.8"/><circle cx="540.8" cy="202.1" r="1.1"/><circle cx="540.5" cy="202.1" r="1.00" fill="#000" stroke="none"/><circle cx="542.9" cy="204.8" r="0.7"/><circle cx="499.4" cy="208.5" r="0.8"/><circle cx="514.0" cy="207.9" r="0.7"/><circle cx="528.5" cy="208.4" r="1.2"/><circle cx="542.6" cy="209.7" r="1.1"/><circle cx="545.2" cy="210.3" r="1.1"/><circle cx="545.7" cy="212.3" r="0.9"/><circle cx="551.8" cy="212.8" r="1.2"/><circle cx="551.5" cy="212.8" r="0.7"/><circle cx="553.4" cy="213.8" r="0.9"/><circle cx="549.0" cy="214.9" r="0.7"/><circle cx="560.0" cy="212.3" r="0.7"/><circle cx="560.0" cy="216.9" r="1.0"/><circle cx="542.4" cy="218.4" r="0.9"/><circle cx="552.3" cy="220.5" r="1.2"/><circle cx="549.8" cy="222.0" r="1.1"/><circle cx="549.5" cy="222.0" r="1.00" fill="#000" stroke="none"/><circle cx="553.4" cy="222.5" r="0.7"/><circle cx="545.7" cy="224.0" r="0.8"/><circle cx="548.6" cy="224.4" r="0.70" fill="#000" stroke="none"/><circle cx="521.4" cy="223.3" r="0.9"/><circle cx="490.5" cy="228.6" r="0.90" fill="#000" stroke="none"/><circle cx="506.9" cy="228.9" r="1.7"/><circle cx="517.1" cy="227.8" r="0.7"/><circle cx="536.2" cy="227.8" r="0.8"/><circle cx="541.6" cy="227.4" r="1.2"/><circle cx="544.0" cy="229.0" r="1.1"/><circle cx="553.2" cy="230.2" r="1.5"/><circle cx="553.6" cy="233.5" r="0.9"/><circle cx="514.5" cy="234.8" r="1.5"/><circle cx="516.4" cy="235.3" r="0.9"/><circle cx="527.0" cy="234.1" r="1.0"/><circle cx="527.3" cy="234.1" r="0.90" fill="#000" stroke="none"/><circle cx="533.4" cy="234.0" r="1.2"/><circle cx="560.0" cy="232.7" r="1.2"/><circle cx="559.5" cy="236.3" r="1.2"/><circle cx="542.6" cy="235.8" r="0.8"/><circle cx="541.1" cy="237.8" r="1.2"/><circle cx="538.5" cy="238.6" r="1.0"/><circle cx="549.8" cy="236.3" r="1.0"/><circle cx="550.1" cy="236.3" r="0.90" fill="#000" stroke="none"/><circle cx="552.3" cy="237.3" r="1.2"/><circle cx="497.5" cy="240.2" r="1.2"/><circle cx="516.8" cy="239.9" r="1.6"/><circle cx="524.2" cy="240.9" r="1.7"/><circle cx="511.5" cy="242.4" r="1.1"/><circle cx="511.5" cy="242.9" r="1.00" fill="#000" stroke="none"/><circle cx="494.9" cy="243.0" r="0.9"/><circle cx="539.6" cy="243.0" r="0.9"/><circle cx="545.2" cy="242.4" r="1.2"/><circle cx="551.8" cy="240.4" r="1.2"/><circle cx="555.4" cy="239.4" r="1.1"/><circle cx="557.4" cy="241.9" r="1.1"/><circle cx="557.1" cy="241.9" r="1.00" fill="#000" stroke="none"/><circle cx="552.3" cy="243.5" r="1.2"/><circle cx="564.1" cy="176.8" r="0.7"/><circle cx="570.7" cy="176.5" r="1.5"/><circle cx="571.8" cy="179.6" r="0.9"/><circle cx="572.1" cy="179.6" r="0.90" fill="#000" stroke="none"/><circle cx="573.6" cy="179.6" r="1.00" fill="#000" stroke="none"/><circle cx="567.5" cy="184.5" r="0.9"/><circle cx="565.6" cy="187.3" r="0.9"/><circle cx="565.9" cy="187.5" r="0.90" fill="#000" stroke="none"/><circle cx="560.5" cy="185.2" r="0.7"/><circle cx="560.5" cy="188.8" r="0.7"/><circle cx="567.9" cy="191.7" r="1.4"/><circle cx="567.7" cy="191.9" r="0.8"/><circle cx="585.0" cy="192.9" r="1.2"/><circle cx="573.6" cy="195.9" r="0.7"/><circle cx="577.9" cy="197.5" r="0.8"/><circle cx="590.5" cy="196.7" r="1.1"/><circle cx="593.7" cy="200.0" r="0.9"/><circle cx="597.0" cy="200.5" r="0.8"/><circle cx="565.9" cy="200.3" r="1.7"/><circle cx="565.6" cy="200.5" r="1.0"/><circle cx="575.8" cy="204.6" r="1.1"/><circle cx="575.5" cy="204.6" r="1.00" fill="#000" stroke="none"/><circle cx="579.9" cy="204.3" r="1.4"/><circle cx="583.0" cy="205.7" r="1.4"/><circle cx="585.5" cy="207.9" r="0.7"/><circle cx="588.4" cy="204.8" r="1.1"/><circle cx="597.8" cy="204.8" r="1.0"/><circle cx="601.4" cy="206.2" r="0.7"/><circle cx="602.7" cy="208.5" r="0.8"/><circle cx="589.6" cy="210.5" r="1.2"/><circle cx="584.3" cy="212.0" r="1.1"/><circle cx="584.1" cy="212.0" r="1.00" fill="#000" stroke="none"/><circle cx="579.9" cy="214.1" r="1.2"/><circle cx="598.3" cy="214.1" r="1.0"/><circle cx="560.5" cy="212.3" r="0.9"/><circle cx="563.9" cy="214.0" r="0.7"/><circle cx="560.8" cy="216.9" r="1.0"/><circle cx="565.6" cy="217.4" r="1.4"/><circle cx="565.9" cy="220.8" r="1.4"/><circle cx="562.6" cy="223.2" r="1.1"/><circle cx="592.7" cy="216.6" r="1.1"/><circle cx="592.0" cy="220.3" r="1.1"/><circle cx="590.5" cy="222.3" r="1.0"/><circle cx="586.4" cy="223.8" r="1.5"/><circle cx="578.7" cy="223.8" r="1.2"/><circle cx="575.8" cy="224.6" r="0.7"/><circle cx="573.1" cy="225.1" r="1.4"/><circle cx="574.3" cy="227.3" r="1.1"/><circle cx="570.5" cy="227.8" r="1.0"/><circle cx="599.5" cy="225.4" r="1.0"/><circle cx="599.3" cy="225.4" r="0.90" fill="#000" stroke="none"/><circle cx="601.4" cy="227.1" r="0.8"/><circle cx="602.2" cy="230.0" r="1.2"/><circle cx="563.1" cy="230.5" r="1.2"/><circle cx="564.6" cy="232.2" r="0.7"/><circle cx="573.6" cy="231.0" r="0.8"/><circle cx="584.2" cy="230.4" r="0.8"/><circle cx="567.2" cy="236.3" r="0.8"/><circle cx="588.4" cy="240.4" r="0.9"/><circle cx="565.1" cy="241.9" r="1.2"/><circle cx="563.6" cy="244.8" r="0.7"/><circle cx="583.3" cy="243.5" r="0.8"/><circle cx="560.5" cy="233.2" r="0.90" fill="#000" stroke="none"/><circle cx="530.2" cy="245.0" r="0.80" fill="#000" stroke="none"/><circle cx="494.6" cy="252.7" r="0.8"/><circle cx="503.8" cy="250.2" r="1.1"/><circle cx="502.1" cy="250.2" r="0.80" fill="#000" stroke="none"/><circle cx="513.0" cy="247.7" r="0.7"/><circle cx="514.5" cy="249.2" r="1.1"/><circle cx="514.2" cy="249.0" r="1.00" fill="#000" stroke="none"/><circle cx="525.8" cy="250.4" r="1.2"/><circle cx="525.5" cy="250.4" r="0.7"/><circle cx="526.8" cy="251.7" r="1.0"/><circle cx="540.6" cy="247.6" r="0.7"/><circle cx="544.2" cy="246.9" r="0.7"/><circle cx="546.7" cy="248.2" r="0.8"/><circle cx="548.8" cy="248.9" r="1.0"/><circle cx="538.5" cy="250.4" r="1.1"/><circle cx="540.6" cy="252.0" r="1.0"/><circle cx="540.1" cy="253.7" r="0.8"/><circle cx="541.9" cy="256.1" r="0.7"/><circle cx="555.4" cy="248.4" r="0.9"/><circle cx="557.4" cy="252.0" r="1.4"/><circle cx="553.9" cy="252.0" r="1.0"/><circle cx="559.8" cy="246.3" r="0.7"/><circle cx="533.9" cy="252.7" r="1.0"/><circle cx="534.1" cy="254.5" r="1.1"/><circle cx="546.0" cy="252.7" r="1.1"/><circle cx="545.7" cy="255.0" r="1.0"/><circle cx="548.2" cy="256.4" r="1.2"/><circle cx="551.3" cy="256.8" r="1.1"/><circle cx="553.4" cy="256.1" r="1.1"/><circle cx="550.3" cy="254.5" r="0.7"/><circle cx="558.0" cy="257.6" r="1.2"/><circle cx="559.5" cy="260.7" r="1.0"/><circle cx="526.8" cy="257.4" r="1.1"/><circle cx="530.4" cy="256.6" r="0.8"/><circle cx="533.9" cy="257.6" r="1.1"/><circle cx="533.4" cy="259.6" r="0.9"/><circle cx="536.5" cy="260.3" r="1.0"/><circle cx="534.5" cy="262.2" r="1.0"/><circle cx="520.5" cy="261.0" r="1.0"/><circle cx="520.7" cy="261.2" r="0.90" fill="#000" stroke="none"/><circle cx="514.3" cy="263.7" r="1.1"/><circle cx="516.8" cy="262.5" r="0.7"/><circle cx="521.2" cy="263.7" r="0.7"/><circle cx="521.5" cy="265.8" r="0.7"/><circle cx="528.8" cy="261.9" r="1.0"/><circle cx="526.8" cy="264.0" r="1.4"/><circle cx="527.2" cy="264.3" r="0.8"/><circle cx="543.1" cy="262.0" r="0.7"/><circle cx="545.7" cy="262.5" r="0.9"/><circle cx="548.2" cy="263.5" r="1.0"/><circle cx="551.3" cy="263.5" r="1.1"/><circle cx="544.9" cy="265.3" r="0.8"/><circle cx="555.9" cy="261.7" r="0.9"/><circle cx="558.5" cy="265.3" r="1.1"/><circle cx="555.9" cy="268.3" r="1.1"/><circle cx="559.5" cy="272.2" r="1.0"/><circle cx="559.8" cy="262.7" r="0.9"/><circle cx="518.6" cy="268.3" r="0.8"/><circle cx="517.1" cy="270.6" r="1.1"/><circle cx="521.7" cy="268.8" r="0.9"/><circle cx="521.7" cy="271.9" r="1.0"/><circle cx="532.9" cy="269.6" r="1.2"/><circle cx="496.6" cy="274.5" r="0.8"/><circle cx="502.6" cy="285.9" r="1.9"/><circle cx="563.6" cy="245.3" r="1.0"/><circle cx="568.2" cy="246.3" r="1.2"/><circle cx="568.5" cy="246.6" r="0.7"/><circle cx="563.1" cy="248.4" r="1.2"/><circle cx="563.4" cy="248.6" r="0.7"/><circle cx="561.0" cy="249.4" r="1.0"/><circle cx="566.1" cy="248.9" r="1.0"/><circle cx="569.2" cy="248.4" r="1.0"/><circle cx="567.7" cy="250.9" r="1.2"/><circle cx="567.9" cy="251.2" r="0.7"/><circle cx="570.2" cy="252.0" r="1.1"/><circle cx="564.1" cy="251.5" r="1.1"/><circle cx="573.3" cy="250.4" r="1.0"/><circle cx="573.1" cy="250.2" r="0.90" fill="#000" stroke="none"/><circle cx="573.8" cy="252.0" r="1.1"/><circle cx="575.8" cy="251.5" r="0.9"/><circle cx="581.3" cy="251.5" r="1.2"/><circle cx="564.3" cy="253.7" r="1.1"/><circle cx="571.0" cy="256.3" r="1.5"/><circle cx="575.6" cy="260.3" r="1.2"/><circle cx="561.2" cy="260.7" r="1.2"/><circle cx="560.5" cy="265.3" r="1.00" fill="#000" stroke="none"/><circle cx="560.3" cy="272.2" r="0.90" fill="#000" stroke="none"/></g></g>
<rect x="287.5" y="32.5" width="387.80" height="258.90" fill="none" stroke="#000" stroke-width="2.2"/>
<line x1="287.50" y1="31.5" x2="287.50" y2="25.2" stroke="#000" stroke-width="1"/><line x1="287.50" y1="292.4" x2="287.50" y2="298.5" stroke="#000" stroke-width="1"/><text x="287.50" y="316.5" font-size="17.6" text-anchor="middle">0</text><line x1="365.06" y1="31.5" x2="365.06" y2="25.2" stroke="#000" stroke-width="1"/><line x1="365.06" y1="292.4" x2="365.06" y2="298.5" stroke="#000" stroke-width="1"/><text x="365.06" y="316.5" font-size="17.6" text-anchor="middle">10</text><line x1="442.62" y1="31.5" x2="442.62" y2="25.2" stroke="#000" stroke-width="1"/><line x1="442.62" y1="292.4" x2="442.62" y2="298.5" stroke="#000" stroke-width="1"/><text x="442.62" y="316.5" font-size="17.6" text-anchor="middle">20</text><line x1="520.18" y1="31.5" x2="520.18" y2="25.2" stroke="#000" stroke-width="1"/><line x1="520.18" y1="292.4" x2="520.18" y2="298.5" stroke="#000" stroke-width="1"/><text x="520.18" y="316.5" font-size="17.6" text-anchor="middle">30</text><line x1="597.74" y1="31.5" x2="597.74" y2="25.2" stroke="#000" stroke-width="1"/><line x1="597.74" y1="292.4" x2="597.74" y2="298.5" stroke="#000" stroke-width="1"/><text x="597.74" y="316.5" font-size="17.6" text-anchor="middle">40</text><line x1="675.30" y1="31.5" x2="675.30" y2="25.2" stroke="#000" stroke-width="1"/><line x1="675.30" y1="292.4" x2="675.30" y2="298.5" stroke="#000" stroke-width="1"/><text x="675.30" y="316.5" font-size="17.6" text-anchor="middle">50</text><line x1="286.5" y1="75.65" x2="279.4" y2="75.65" stroke="#000" stroke-width="1"/><line x1="676.3" y1="75.65" x2="682.8" y2="75.65" stroke="#000" stroke-width="1"/><line x1="286.5" y1="162.1" x2="279.4" y2="162.1" stroke="#000" stroke-width="1"/><line x1="676.3" y1="162.1" x2="682.8" y2="162.1" stroke="#000" stroke-width="1"/><line x1="286.5" y1="248.55" x2="279.4" y2="248.55" stroke="#000" stroke-width="1"/><line x1="676.3" y1="248.55" x2="682.8" y2="248.55" stroke="#000" stroke-width="1"/>
<text x="481.8" y="344.3" font-size="20.6" letter-spacing="0.36" text-anchor="middle">Depth(km)</text>
<text x="295" y="75.6" font-size="17.6">H:V=1:1</text>
<circle cx="601.8" cy="194.3" r="6.1" fill="none" stroke="#000" stroke-width="0.9"/>
<line x1="601.8" y1="194.3" x2="636.6" y2="196.2" stroke="#000" stroke-width="1.05"/>
<text x="636.4" y="202.7" font-size="17.6">M</text>
<!-- panel c -->
<text x="9.3" y="323.8" font-size="17.1" font-weight="bold">c</text>
<line x1="70.85" y1="401.40" x2="262.0" y2="401.40" stroke="#000" stroke-width="0.8"/><line x1="70.85" y1="478.90" x2="262.0" y2="478.90" stroke="#000" stroke-width="0.8"/><line x1="70.85" y1="556.40" x2="262.0" y2="556.40" stroke="#000" stroke-width="0.8"/><line x1="70.85" y1="633.90" x2="262.0" y2="633.90" stroke="#000" stroke-width="0.8"/>
<clipPath id="clipC"><rect x="70.85" y="323.9" width="191.15" height="387.5"/></clipPath>
<g clip-path="url(#clipC)"><g fill="none" stroke="#000" stroke-width="1.0"><circle cx="115.6" cy="434.0" r="0.7"/><circle cx="87.6" cy="447.7" r="0.70" fill="#000" stroke="none"/><circle cx="105.4" cy="459.4" r="1.0"/><circle cx="105.7" cy="461.3" r="0.70" fill="#000" stroke="none"/><circle cx="114.7" cy="462.0" r="0.7"/><circle cx="105.7" cy="465.0" r="1.0"/><circle cx="96.9" cy="466.3" r="0.80" fill="#000" stroke="none"/><circle cx="126.5" cy="465.0" r="0.80" fill="#000" stroke="none"/><circle cx="125.2" cy="469.1" r="0.7"/><circle cx="120.7" cy="472.6" r="0.7"/><circle cx="102.0" cy="474.2" r="0.80" fill="#000" stroke="none"/><circle cx="111.5" cy="478.4" r="0.8"/><circle cx="127.6" cy="484.8" r="0.7"/><circle cx="104.5" cy="488.3" r="0.7"/><circle cx="126.6" cy="505.1" r="0.9"/><circle cx="144.8" cy="503.1" r="0.7"/><circle cx="150.9" cy="513.0" r="1.2"/><circle cx="136.3" cy="526.6" r="0.8"/><circle cx="127.4" cy="529.1" r="0.8"/><circle cx="129.4" cy="533.2" r="0.8"/><circle cx="142.0" cy="528.6" r="1.6"/><circle cx="146.8" cy="529.4" r="1.2"/><circle cx="143.5" cy="530.5" r="0.90" fill="#000" stroke="none"/><circle cx="135.8" cy="530.7" r="0.7"/><circle cx="137.9" cy="531.2" r="0.7"/><circle cx="140.4" cy="533.2" r="1.1"/><circle cx="142.5" cy="535.3" r="0.9"/><circle cx="139.4" cy="538.6" r="1.1"/><circle cx="142.0" cy="539.3" r="1.7"/><circle cx="139.9" cy="540.4" r="0.9"/><circle cx="157.6" cy="540.9" r="0.8"/><circle cx="144.3" cy="543.4" r="1.4"/><circle cx="144.0" cy="544.5" r="1.1"/><circle cx="151.2" cy="544.7" r="1.1"/><circle cx="153.5" cy="547.3" r="1.0"/><circle cx="137.9" cy="547.5" r="1.1"/><circle cx="139.6" cy="548.0" r="1.0"/><circle cx="137.4" cy="550.6" r="0.9"/><circle cx="142.3" cy="550.1" r="1.1"/><circle cx="147.4" cy="548.5" r="1.0"/><circle cx="149.6" cy="548.0" r="0.9"/><circle cx="149.8" cy="548.2" r="0.90" fill="#000" stroke="none"/><circle cx="148.1" cy="550.6" r="1.2"/><circle cx="150.1" cy="550.6" r="1.1"/><circle cx="152.5" cy="551.6" r="1.0"/><circle cx="129.9" cy="551.1" r="1.4"/><circle cx="138.4" cy="553.3" r="1.2"/><circle cx="135.8" cy="554.2" r="0.8"/><circle cx="144.8" cy="553.1" r="1.4"/><circle cx="148.1" cy="553.1" r="1.1"/><circle cx="148.3" cy="553.3" r="1.00" fill="#000" stroke="none"/><circle cx="150.7" cy="553.6" r="1.0"/><circle cx="161.9" cy="551.9" r="0.7"/><circle cx="185.7" cy="553.1" r="1.1"/><circle cx="135.3" cy="557.2" r="1.0"/><circle cx="131.0" cy="557.7" r="0.7"/><circle cx="140.4" cy="557.7" r="0.7"/><circle cx="153.2" cy="555.2" r="1.2"/><circle cx="153.4" cy="555.4" r="0.7"/><circle cx="154.7" cy="556.2" r="1.2"/><circle cx="154.9" cy="556.4" r="0.7"/><circle cx="152.7" cy="557.7" r="1.1"/><circle cx="155.3" cy="558.8" r="1.0"/><circle cx="149.1" cy="557.2" r="1.0"/><circle cx="149.6" cy="559.3" r="1.0"/><circle cx="149.4" cy="561.3" r="1.5"/><circle cx="152.2" cy="561.3" r="1.1"/><circle cx="161.4" cy="558.8" r="1.2"/><circle cx="163.9" cy="558.8" r="1.0"/><circle cx="166.5" cy="558.2" r="0.9"/><circle cx="171.1" cy="558.8" r="1.2"/><circle cx="175.7" cy="557.4" r="0.9"/><circle cx="182.8" cy="557.2" r="0.7"/><circle cx="142.5" cy="561.6" r="1.2"/><circle cx="140.4" cy="563.4" r="1.2"/><circle cx="140.6" cy="563.6" r="0.7"/><circle cx="138.4" cy="563.9" r="1.0"/><circle cx="142.0" cy="563.9" r="0.9"/><circle cx="133.8" cy="564.6" r="0.8"/><circle cx="136.9" cy="566.4" r="0.7"/><circle cx="158.3" cy="561.3" r="1.2"/><circle cx="158.5" cy="561.5" r="0.7"/><circle cx="160.4" cy="562.8" r="1.1"/><circle cx="162.9" cy="561.3" r="1.0"/><circle cx="165.0" cy="562.3" r="1.1"/><circle cx="167.5" cy="564.4" r="1.2"/><circle cx="170.1" cy="561.8" r="1.4"/><circle cx="173.1" cy="562.3" r="0.9"/><circle cx="177.5" cy="561.3" r="1.1"/><circle cx="181.3" cy="561.0" r="0.9"/><circle cx="176.5" cy="564.2" r="0.9"/><circle cx="189.5" cy="562.3" r="0.9"/><circle cx="156.3" cy="563.4" r="1.0"/><circle cx="158.8" cy="565.4" r="1.2"/><circle cx="159.0" cy="565.6" r="0.7"/><circle cx="161.9" cy="565.4" r="1.1"/><circle cx="165.0" cy="565.9" r="1.0"/><circle cx="171.1" cy="566.9" r="1.0"/><circle cx="169.0" cy="568.5" r="1.0"/><circle cx="175.7" cy="568.5" r="1.0"/><circle cx="175.9" cy="568.7" r="0.90" fill="#000" stroke="none"/><circle cx="166.5" cy="568.5" r="0.9"/><circle cx="163.4" cy="568.5" r="1.0"/><circle cx="160.4" cy="568.5" r="1.1"/><circle cx="160.6" cy="568.7" r="1.00" fill="#000" stroke="none"/><circle cx="157.8" cy="568.0" r="1.1"/><circle cx="158.0" cy="568.2" r="1.00" fill="#000" stroke="none"/><circle cx="129.2" cy="569.3" r="1.2"/><circle cx="133.3" cy="569.5" r="0.7"/><circle cx="144.5" cy="569.8" r="0.7"/><circle cx="150.7" cy="569.5" r="1.0"/><circle cx="185.9" cy="569.8" r="0.90" fill="#000" stroke="none"/><circle cx="151.7" cy="564.4" r="0.9"/><circle cx="139.4" cy="570.8" r="1.0"/><circle cx="185.9" cy="571.5" r="1.4"/><circle cx="144.0" cy="574.6" r="1.2"/><circle cx="144.2" cy="574.8" r="0.7"/><circle cx="144.5" cy="571.5" r="0.9"/><circle cx="140.9" cy="579.5" r="0.7"/><circle cx="140.7" cy="584.8" r="1.4"/><circle cx="144.0" cy="582.8" r="1.0"/><circle cx="146.6" cy="581.8" r="1.0"/><circle cx="149.1" cy="580.7" r="1.0"/><circle cx="149.1" cy="576.6" r="0.8"/><circle cx="151.7" cy="580.2" r="0.8"/><circle cx="144.0" cy="590.4" r="0.8"/><circle cx="147.6" cy="589.4" r="1.1"/><circle cx="148.1" cy="586.9" r="1.0"/><circle cx="150.1" cy="586.9" r="0.9"/><circle cx="136.3" cy="595.0" r="1.2"/><circle cx="140.4" cy="596.6" r="0.8"/><circle cx="145.5" cy="596.3" r="0.8"/><circle cx="150.7" cy="595.5" r="0.9"/><circle cx="181.3" cy="575.1" r="1.0"/><circle cx="181.5" cy="575.3" r="0.90" fill="#000" stroke="none"/><circle cx="182.8" cy="578.2" r="1.1"/><circle cx="176.2" cy="577.7" r="1.0"/><circle cx="182.3" cy="583.3" r="1.1"/><circle cx="180.3" cy="585.3" r="1.0"/><circle cx="183.4" cy="589.4" r="1.4"/><circle cx="186.2" cy="588.4" r="0.9"/><circle cx="186.9" cy="594.0" r="1.5"/><circle cx="178.2" cy="589.9" r="1.1"/><circle cx="149.1" cy="603.2" r="1.2"/><circle cx="149.6" cy="606.3" r="1.1"/><circle cx="152.2" cy="605.8" r="1.0"/><circle cx="154.2" cy="606.8" r="1.0"/><circle cx="156.3" cy="608.3" r="1.1"/><circle cx="158.8" cy="609.3" r="1.1"/><circle cx="154.7" cy="610.9" r="1.2"/><circle cx="158.3" cy="611.9" r="1.2"/><circle cx="161.4" cy="608.8" r="1.0"/><circle cx="158.8" cy="604.2" r="0.9"/><circle cx="166.0" cy="611.9" r="1.2"/><circle cx="163.9" cy="605.8" r="1.0"/><circle cx="166.5" cy="604.7" r="1.0"/><circle cx="168.0" cy="606.8" r="1.1"/><circle cx="165.0" cy="600.7" r="1.1"/><circle cx="167.5" cy="599.6" r="1.2"/><circle cx="150.7" cy="599.6" r="0.9"/><circle cx="155.3" cy="599.6" r="1.1"/><circle cx="159.9" cy="600.7" r="1.0"/><circle cx="162.9" cy="601.7" r="0.9"/><circle cx="171.1" cy="600.7" r="1.1"/><circle cx="175.2" cy="601.7" r="1.2"/><circle cx="178.8" cy="601.7" r="1.2"/><circle cx="182.3" cy="604.2" r="1.4"/><circle cx="180.8" cy="602.2" r="1.0"/><circle cx="173.1" cy="604.7" r="1.0"/><circle cx="175.7" cy="607.3" r="1.0"/><circle cx="178.2" cy="608.8" r="1.4"/><circle cx="174.2" cy="610.4" r="1.2"/><circle cx="172.1" cy="610.9" r="1.0"/><circle cx="173.1" cy="612.9" r="0.9"/><circle cx="176.4" cy="613.9" r="0.70" fill="#000" stroke="none"/><circle cx="179.1" cy="614.1" r="1.00" fill="#000" stroke="none"/><circle cx="181.3" cy="616.5" r="1.2"/><circle cx="185.4" cy="615.0" r="1.1"/><circle cx="186.9" cy="619.0" r="1.5"/><circle cx="184.4" cy="620.1" r="0.9"/><circle cx="170.1" cy="617.5" r="1.2"/><circle cx="173.6" cy="616.5" r="1.1"/><circle cx="172.6" cy="621.1" r="1.2"/><circle cx="176.2" cy="619.6" r="1.0"/><circle cx="178.2" cy="620.6" r="1.1"/><circle cx="178.8" cy="623.1" r="1.1"/><circle cx="180.8" cy="625.2" r="1.1"/><circle cx="182.8" cy="626.7" r="1.1"/><circle cx="183.4" cy="628.2" r="1.0"/><circle cx="145.8" cy="620.1" r="1.2"/><circle cx="135.5" cy="627.0" r="1.2"/><circle cx="167.8" cy="625.0" r="0.7"/><circle cx="178.2" cy="629.1" r="1.0"/><circle cx="178.5" cy="629.3" r="0.90" fill="#000" stroke="none"/><circle cx="179.3" cy="634.4" r="1.2"/><circle cx="179.5" cy="634.6" r="0.7"/><circle cx="180.3" cy="636.9" r="1.0"/><circle cx="178.8" cy="638.0" r="0.9"/><circle cx="173.1" cy="636.9" r="0.9"/><circle cx="168.2" cy="577.9" r="1.4"/><circle cx="159.0" cy="581.9" r="1.3"/><circle cx="168.0" cy="571.7" r="1.0"/><circle cx="166.6" cy="579.9" r="1.2"/><circle cx="176.6" cy="581.9" r="1.3"/><circle cx="166.9" cy="592.5" r="1.6"/><circle cx="177.4" cy="584.1" r="1.0"/><circle cx="174.2" cy="578.2" r="1.2"/><circle cx="160.2" cy="584.5" r="1.0"/><circle cx="159.9" cy="584.0" r="1.3"/><circle cx="166.2" cy="587.9" r="1.1"/><circle cx="163.3" cy="590.1" r="1.0"/><circle cx="154.5" cy="577.7" r="1.4"/><circle cx="171.0" cy="581.5" r="1.5"/><circle cx="163.3" cy="585.6" r="1.4"/><circle cx="175.4" cy="577.6" r="1.2"/><circle cx="159.9" cy="571.5" r="1.2"/><circle cx="172.7" cy="575.2" r="1.5"/><circle cx="157.8" cy="576.9" r="1.0"/><circle cx="167.3" cy="575.7" r="1.2"/><circle cx="160.4" cy="580.1" r="1.4"/><circle cx="158.1" cy="589.2" r="1.2"/><circle cx="167.1" cy="572.8" r="1.3"/><circle cx="157.5" cy="582.3" r="1.0"/><circle cx="164.7" cy="579.2" r="1.6"/><circle cx="157.8" cy="587.8" r="1.1"/><circle cx="174.5" cy="580.7" r="1.5"/><circle cx="171.5" cy="574.5" r="1.1"/><circle cx="174.2" cy="579.1" r="1.3"/><circle cx="164.4" cy="590.3" r="1.3"/><circle cx="178.0" cy="582.2" r="1.5"/><circle cx="174.2" cy="574.2" r="1.4"/><circle cx="154.1" cy="580.4" r="1.3"/><circle cx="173.3" cy="584.6" r="1.5"/><circle cx="168.5" cy="590.9" r="1.3"/><circle cx="159.9" cy="588.7" r="1.2"/><circle cx="158.8" cy="575.2" r="1.4"/><circle cx="174.0" cy="583.3" r="1.1"/><circle cx="160.8" cy="579.0" r="1.5"/><circle cx="168.8" cy="570.8" r="1.5"/><circle cx="169.0" cy="576.3" r="1.4"/><circle cx="169.1" cy="582.1" r="1.0"/><circle cx="165.5" cy="592.9" r="1.0"/><circle cx="159.8" cy="590.1" r="1.0"/><circle cx="160.4" cy="580.9" r="1.1"/><circle cx="163.9" cy="575.3" r="1.3"/><circle cx="158.3" cy="582.9" r="1.0"/><circle cx="158.5" cy="585.5" r="1.1"/><circle cx="168.9" cy="579.3" r="1.3"/><circle cx="160.9" cy="578.2" r="1.5"/><circle cx="167.3" cy="582.0" r="1.1"/><circle cx="171.3" cy="590.9" r="1.4"/><circle cx="155.4" cy="578.8" r="1.1"/><circle cx="169.2" cy="569.7" r="1.3"/><circle cx="161.9" cy="576.9" r="1.2"/><circle cx="161.3" cy="590.5" r="1.4"/><circle cx="164.5" cy="584.7" r="1.6"/><circle cx="161.3" cy="593.0" r="1.5"/><circle cx="172.1" cy="579.1" r="1.4"/><circle cx="165.4" cy="590.0" r="1.0"/><circle cx="177.1" cy="584.6" r="1.5"/><circle cx="154.1" cy="576.4" r="1.1"/><circle cx="177.2" cy="579.8" r="1.4"/><circle cx="158.9" cy="588.1" r="1.2"/><circle cx="162.8" cy="576.6" r="1.2"/><circle cx="169.9" cy="585.2" r="1.4"/><circle cx="158.5" cy="581.8" r="1.2"/><circle cx="175.1" cy="574.7" r="1.0"/><circle cx="162.8" cy="586.8" r="1.6"/><circle cx="159.5" cy="591.3" r="1.1"/><circle cx="171.0" cy="572.8" r="1.5"/><circle cx="171.0" cy="576.7" r="1.4"/><circle cx="174.3" cy="580.9" r="1.1"/><circle cx="174.8" cy="587.3" r="1.1"/><circle cx="168.3" cy="593.6" r="1.4"/><circle cx="170.8" cy="573.4" r="1.2"/><circle cx="163.6" cy="589.0" r="1.5"/><circle cx="175.0" cy="578.9" r="1.5"/><circle cx="161.0" cy="580.3" r="1.0"/><circle cx="167.7" cy="582.9" r="1.5"/><circle cx="170.8" cy="571.8" r="1.2"/><circle cx="167.5" cy="571.9" r="1.2"/><circle cx="167.1" cy="591.3" r="1.0"/><circle cx="170.6" cy="577.6" r="1.3"/><circle cx="153.6" cy="585.0" r="1.1"/><circle cx="170.8" cy="571.7" r="1.0"/><circle cx="174.2" cy="587.4" r="1.0"/><circle cx="177.1" cy="584.7" r="1.1"/><circle cx="154.3" cy="587.8" r="1.0"/><circle cx="165.8" cy="587.0" r="1.4"/><circle cx="168.9" cy="579.6" r="1.2"/><circle cx="176.1" cy="575.0" r="1.2"/><circle cx="159.1" cy="582.7" r="1.0"/><circle cx="175.5" cy="584.3" r="1.0"/><circle cx="161.9" cy="593.9" r="1.3"/><circle cx="162.2" cy="589.7" r="1.0"/><circle cx="177.5" cy="579.4" r="1.6"/><circle cx="166.4" cy="585.9" r="1.4"/><circle cx="153.3" cy="578.4" r="1.4"/><circle cx="164.9" cy="592.1" r="1.3"/><circle cx="165.6" cy="588.8" r="1.0"/><circle cx="172.2" cy="581.0" r="1.3"/><circle cx="159.1" cy="573.7" r="1.6"/><circle cx="162.7" cy="589.2" r="1.2"/><circle cx="169.6" cy="575.9" r="1.5"/><circle cx="174.9" cy="591.9" r="1.0"/><circle cx="167.0" cy="592.4" r="1.4"/><circle cx="162.5" cy="599.1" r="1.3"/><circle cx="158.5" cy="591.5" r="1.1"/><circle cx="160.2" cy="596.7" r="1.3"/><circle cx="175.2" cy="591.9" r="1.3"/><circle cx="164.7" cy="598.4" r="1.0"/><circle cx="163.8" cy="594.3" r="1.1"/><circle cx="170.4" cy="591.4" r="1.2"/><circle cx="166.1" cy="599.0" r="1.0"/><circle cx="169.3" cy="596.9" r="1.2"/><circle cx="160.8" cy="588.1" r="1.1"/><circle cx="168.3" cy="588.0" r="1.4"/><circle cx="166.3" cy="587.7" r="1.4"/><circle cx="171.5" cy="593.5" r="1.5"/><circle cx="165.6" cy="591.3" r="1.3"/><circle cx="158.7" cy="593.2" r="1.2"/><circle cx="155.6" cy="594.0" r="1.4"/><circle cx="170.0" cy="591.4" r="1.4"/><circle cx="159.2" cy="592.2" r="1.4"/><circle cx="156.8" cy="594.5" r="1.1"/><circle cx="163.7" cy="590.4" r="1.1"/><circle cx="164.4" cy="600.3" r="1.4"/><circle cx="171.0" cy="593.0" r="1.3"/><circle cx="158.3" cy="593.5" r="1.3"/><circle cx="162.5" cy="598.7" r="1.1"/><circle cx="172.2" cy="592.1" r="1.3"/><circle cx="166.7" cy="592.4" r="1.3"/><circle cx="169.0" cy="599.9" r="1.4"/><circle cx="164.1" cy="592.7" r="1.1"/><circle cx="168.9" cy="591.8" r="1.0"/><circle cx="170.0" cy="590.2" r="1.1"/><circle cx="158.1" cy="572.1" r="1.1"/><circle cx="157.3" cy="570.9" r="0.9"/><circle cx="163.5" cy="572.3" r="1.0"/><circle cx="167.9" cy="572.5" r="1.1"/><circle cx="153.7" cy="573.0" r="1.2"/><circle cx="160.3" cy="571.7" r="1.3"/><circle cx="162.5" cy="570.3" r="1.2"/><circle cx="163.1" cy="571.8" r="1.2"/><circle cx="168.4" cy="572.9" r="1.3"/><circle cx="161.6" cy="570.5" r="1.3"/><circle cx="170.5" cy="571.3" r="1.1"/><circle cx="154.3" cy="573.5" r="1.4"/><circle cx="171.9" cy="608.0" r="1.1"/><circle cx="171.5" cy="606.7" r="1.1"/><circle cx="170.6" cy="596.9" r="1.3"/><circle cx="159.0" cy="604.3" r="1.1"/><circle cx="171.0" cy="607.6" r="1.1"/><circle cx="173.0" cy="597.5" r="1.3"/><circle cx="170.8" cy="613.0" r="1.1"/><circle cx="164.6" cy="598.0" r="1.3"/><circle cx="178.3" cy="609.7" r="1.2"/><circle cx="153.4" cy="605.0" r="1.1"/><circle cx="174.9" cy="608.6" r="1.4"/><circle cx="152.4" cy="602.7" r="1.1"/><circle cx="152.9" cy="601.4" r="1.3"/><circle cx="151.9" cy="604.8" r="1.1"/><circle cx="155.2" cy="608.2" r="1.0"/><circle cx="169.2" cy="600.6" r="1.0"/><circle cx="163.7" cy="603.8" r="1.1"/><circle cx="155.0" cy="606.5" r="1.1"/><circle cx="171.1" cy="613.9" r="1.1"/><circle cx="161.3" cy="602.2" r="1.1"/><circle cx="165.8" cy="599.8" r="1.1"/><circle cx="175.4" cy="601.4" r="1.0"/><circle cx="166.5" cy="607.5" r="1.3"/><circle cx="166.9" cy="612.4" r="1.1"/><circle cx="159.7" cy="606.2" r="1.0"/><circle cx="176.1" cy="600.6" r="1.4"/><circle cx="163.5" cy="561.9" r="1.3"/><circle cx="163.2" cy="561.0" r="1.4"/><circle cx="162.1" cy="566.1" r="1.4"/><circle cx="171.3" cy="563.5" r="1.0"/><circle cx="164.1" cy="569.4" r="1.2"/><circle cx="172.4" cy="566.2" r="1.1"/><circle cx="169.1" cy="564.6" r="1.3"/><circle cx="165.3" cy="564.0" r="1.0"/><circle cx="170.1" cy="568.8" r="1.0"/><circle cx="166.6" cy="570.5" r="1.1"/><circle cx="171.7" cy="562.3" r="1.1"/><circle cx="153.3" cy="564.7" r="1.3"/><circle cx="197.3" cy="589.0" r="1.1"/><circle cx="190.9" cy="594.1" r="0.90" fill="#000" stroke="none"/></g></g>
<rect x="70.85" y="323.9" width="191.15" height="387.50" fill="none" stroke="#000" stroke-width="2.2"/>
<line x1="69.85" y1="323.90" x2="62.64999999999999" y2="323.90" stroke="#000" stroke-width="1"/><line x1="263.0" y1="323.90" x2="269.5" y2="323.90" stroke="#000" stroke-width="1"/><text x="57.6" y="330.9" font-size="17.6" text-anchor="end">0</text><line x1="69.85" y1="401.40" x2="62.64999999999999" y2="401.40" stroke="#000" stroke-width="1"/><line x1="263.0" y1="401.40" x2="269.5" y2="401.40" stroke="#000" stroke-width="1"/><text x="57.6" y="408.4" font-size="17.6" text-anchor="end">10</text><line x1="69.85" y1="478.90" x2="62.64999999999999" y2="478.90" stroke="#000" stroke-width="1"/><line x1="263.0" y1="478.90" x2="269.5" y2="478.90" stroke="#000" stroke-width="1"/><text x="57.6" y="485.9" font-size="17.6" text-anchor="end">20</text><line x1="69.85" y1="556.40" x2="62.64999999999999" y2="556.40" stroke="#000" stroke-width="1"/><line x1="263.0" y1="556.40" x2="269.5" y2="556.40" stroke="#000" stroke-width="1"/><text x="57.6" y="563.4" font-size="17.6" text-anchor="end">30</text><line x1="69.85" y1="633.90" x2="62.64999999999999" y2="633.90" stroke="#000" stroke-width="1"/><line x1="263.0" y1="633.90" x2="269.5" y2="633.90" stroke="#000" stroke-width="1"/><text x="57.6" y="640.9" font-size="17.6" text-anchor="end">40</text><line x1="69.85" y1="711.40" x2="62.64999999999999" y2="711.40" stroke="#000" stroke-width="1"/><line x1="263.0" y1="711.40" x2="269.5" y2="711.40" stroke="#000" stroke-width="1"/><text x="57.6" y="718.4" font-size="17.6" text-anchor="end">50</text><line x1="102.5" y1="322.9" x2="102.5" y2="316.59999999999997" stroke="#000" stroke-width="1"/><line x1="102.5" y1="712.4" x2="102.5" y2="719.0" stroke="#000" stroke-width="1"/><line x1="166.3" y1="322.9" x2="166.3" y2="316.59999999999997" stroke="#000" stroke-width="1"/><line x1="166.3" y1="712.4" x2="166.3" y2="719.0" stroke="#000" stroke-width="1"/><line x1="230.1" y1="322.9" x2="230.1" y2="316.59999999999997" stroke="#000" stroke-width="1"/><line x1="230.1" y1="712.4" x2="230.1" y2="719.0" stroke="#000" stroke-width="1"/>
<text transform="translate(17.3 517.6) rotate(-90)" font-size="20.6" letter-spacing="0.36" text-anchor="middle">Depth(km)</text>
<text x="166.0" y="688.5" font-size="17.6">H:V=1:1</text>
<circle cx="173.4" cy="637.2" r="6.0" fill="none" stroke="#000" stroke-width="0.9"/>
<line x1="173.4" y1="637.2" x2="134.2" y2="672" stroke="#000" stroke-width="1.05"/>
<text x="119.7" y="685.5" font-size="17.6">M</text>
<!-- panel d -->
<text x="347.5" y="388.4" font-size="17.1" font-weight="bold">d</text>
<clipPath id="clipD"><rect x="389.8" y="389.3" width="190.15000000000003" height="258.3"/></clipPath><path d="M389.5 608.4 L395.0 610.9 L416.9 621.0 L422.6 627.3 L425.6 625.4 L425.4 629.3 L424.3 631.3 L429.3 640.0 L442.7 647.7" fill="none" stroke="#000" stroke-width="1.1" stroke-linejoin="miter" clip-path="url(#clipD)"/><g clip-path="url(#clipD)"><g fill="none" stroke="#000" stroke-width="1.0"><circle cx="472.5" cy="417.8" r="1.5"/><circle cx="472.9" cy="421.4" r="2.0"/><circle cx="482.7" cy="422.0" r="1.5"/><circle cx="494.1" cy="439.9" r="1.3"/><circle cx="475.9" cy="445.0" r="1.2"/><circle cx="494.9" cy="445.0" r="1.4"/><circle cx="492.8" cy="467.2" r="1.3"/><circle cx="492.0" cy="471.2" r="1.4"/><circle cx="486.5" cy="478.8" r="1.2"/><circle cx="472.1" cy="482.6" r="1.1"/><circle cx="473.5" cy="483.8" r="1.1"/><circle cx="478.0" cy="487.3" r="1.3"/><circle cx="482.9" cy="485.9" r="1.6"/><circle cx="478.3" cy="492.5" r="0.9"/><circle cx="476.6" cy="493.9" r="1.2"/><circle cx="476.2" cy="496.4" r="1.1"/><circle cx="482.6" cy="495.7" r="1.2"/><circle cx="479.7" cy="499.3" r="0.9"/><circle cx="470.0" cy="498.0" r="1.3"/><circle cx="475.9" cy="505.0" r="1.4"/><circle cx="475.9" cy="512.4" r="1.5"/><circle cx="475.9" cy="513.0" r="1.1"/><circle cx="471.2" cy="517.0" r="1.6"/><circle cx="483.4" cy="517.6" r="1.2"/><circle cx="493.3" cy="519.7" r="1.5"/><circle cx="486.5" cy="526.4" r="1.4"/><circle cx="470.0" cy="529.0" r="1.3"/><circle cx="469.2" cy="532.2" r="1.2"/><circle cx="473.6" cy="532.5" r="1.1"/><circle cx="463.0" cy="532.8" r="1.4"/><circle cx="470.4" cy="536.5" r="1.2"/><circle cx="478.8" cy="534.2" r="1.2"/><circle cx="486.1" cy="532.8" r="1.6"/><circle cx="491.7" cy="536.9" r="1.2"/><circle cx="488.2" cy="539.8" r="0.9"/><circle cx="497.0" cy="542.5" r="1.2"/><circle cx="500.5" cy="547.2" r="1.8"/><circle cx="499.9" cy="551.1" r="1.5"/><circle cx="485.2" cy="549.4" r="1.6"/><circle cx="432.1" cy="556.8" r="1.1"/><circle cx="506.1" cy="557.6" r="1.5"/><circle cx="494.0" cy="562.9" r="1.5"/><circle cx="494.2" cy="566.4" r="1.4"/><circle cx="494.0" cy="566.7" r="0.8"/><circle cx="493.1" cy="570.5" r="1.5"/><circle cx="486.9" cy="570.8" r="1.2"/><circle cx="489.2" cy="572.2" r="1.4"/><circle cx="480.9" cy="572.8" r="1.3"/><circle cx="466.2" cy="580.1" r="1.4"/><circle cx="463.9" cy="581.6" r="1.1"/><circle cx="477.1" cy="581.3" r="1.2"/><circle cx="481.7" cy="581.6" r="1.2"/><circle cx="484.0" cy="578.9" r="1.3"/><circle cx="487.8" cy="580.3" r="1.2"/><circle cx="475.8" cy="586.5" r="1.2"/><circle cx="477.6" cy="588.5" r="1.4"/><circle cx="479.6" cy="591.0" r="1.2"/><circle cx="486.1" cy="589.2" r="1.3"/><circle cx="470.6" cy="591.0" r="1.3"/><circle cx="446.1" cy="597.9" r="1.3"/><circle cx="458.0" cy="597.3" r="1.2"/><circle cx="461.3" cy="595.3" r="1.2"/><circle cx="460.7" cy="599.1" r="1.3"/><circle cx="460.9" cy="598.9" r="0.7"/><circle cx="473.8" cy="597.9" r="1.5"/><circle cx="472.9" cy="601.9" r="1.5"/><circle cx="453.0" cy="605.5" r="1.3"/><circle cx="475.5" cy="617.2" r="1.2"/><circle cx="460.9" cy="621.9" r="1.5"/></g></g><rect x="389.80" y="386.30" width="31.70" height="3.00" fill="#000"/><rect x="421.50" y="386.30" width="63.80" height="3.00" fill="#a2a2a2"/><rect x="485.30" y="386.30" width="63.80" height="3.00" fill="#000"/><rect x="549.10" y="386.30" width="30.85" height="3.00" fill="#a2a2a2"/><rect x="389.80" y="647.60" width="31.70" height="3.00" fill="#000"/><rect x="421.50" y="647.60" width="63.80" height="3.00" fill="#a2a2a2"/><rect x="485.30" y="647.60" width="63.80" height="3.00" fill="#000"/><rect x="549.10" y="647.60" width="30.85" height="3.00" fill="#a2a2a2"/><rect x="386.80" y="389.30" width="3.00" height="42.85" fill="#000"/><rect x="387.18" y="432.15" width="2.25" height="86.45" fill="#fff" stroke="#000" stroke-width="0.75"/><rect x="386.80" y="518.60" width="3.00" height="86.45" fill="#000"/><rect x="387.18" y="605.05" width="2.25" height="42.55" fill="#fff" stroke="#000" stroke-width="0.75"/><rect x="579.95" y="389.30" width="3.00" height="42.85" fill="#000"/><rect x="580.33" y="432.15" width="2.25" height="86.45" fill="#fff" stroke="#000" stroke-width="0.75"/><rect x="579.95" y="518.60" width="3.00" height="86.45" fill="#000"/><rect x="580.33" y="605.05" width="2.25" height="42.55" fill="#fff" stroke="#000" stroke-width="0.75"/><rect x="387.18" y="386.68" width="2.25" height="2.25" fill="#fff" stroke="#000" stroke-width="0.75"/><rect x="387.18" y="647.98" width="2.25" height="2.25" fill="#fff" stroke="#000" stroke-width="0.75"/><rect x="580.33" y="386.68" width="2.25" height="2.25" fill="#fff" stroke="#000" stroke-width="0.75"/><rect x="580.33" y="647.98" width="2.25" height="2.25" fill="#fff" stroke="#000" stroke-width="0.75"/><line x1="421.5" y1="650.6" x2="421.5" y2="655.6" stroke="#000" stroke-width="1"/><text x="419.20" y="672.70" font-size="17.6" text-anchor="middle">141.9</text><text x="441.12" y="667.70" font-size="13" style="stroke-width:0">°</text><line x1="485.3" y1="650.6" x2="485.3" y2="655.6" stroke="#000" stroke-width="1"/><text x="483.00" y="672.70" font-size="17.6" text-anchor="middle">142</text><text x="497.58" y="667.70" font-size="13" style="stroke-width:0">°</text><line x1="549.1" y1="650.6" x2="549.1" y2="655.6" stroke="#000" stroke-width="1"/><text x="546.80" y="672.70" font-size="17.6" text-anchor="middle">142.1</text><text x="568.72" y="667.70" font-size="13" style="stroke-width:0">°</text><line x1="386.8" y1="432.15" x2="381.6" y2="432.15" stroke="#000" stroke-width="1"/><text x="371.20" y="438.60" font-size="17.6" text-anchor="end">42.8</text><text x="371.10" y="433.60" font-size="13" style="stroke-width:0">°</text><line x1="386.8" y1="518.6" x2="381.6" y2="518.6" stroke="#000" stroke-width="1"/><text x="371.20" y="525.05" font-size="17.6" text-anchor="end">42.7</text><text x="371.10" y="520.05" font-size="13" style="stroke-width:0">°</text><line x1="386.8" y1="605.05" x2="381.6" y2="605.05" stroke="#000" stroke-width="1"/><text x="371.20" y="611.50" font-size="17.6" text-anchor="end">42.6</text><text x="371.10" y="606.50" font-size="13" style="stroke-width:0">°</text><path d="M496.6 623.1 L496.6 613.7 L575.0 613.7 L575.0 623.1" fill="none" stroke="#000" stroke-width="1"/><text x="536.2" y="639.2" font-size="17.6" text-anchor="middle">10 km</text><circle cx="487.4" cy="534.2" r="6.1" fill="none" stroke="#000" stroke-width="0.9"/><line x1="487.4" y1="534.2" x2="548.3" y2="517.8" stroke="#000" stroke-width="1.05"/><text x="548.6" y="524.6" font-size="17.6">M</text>
</svg></body></html>
